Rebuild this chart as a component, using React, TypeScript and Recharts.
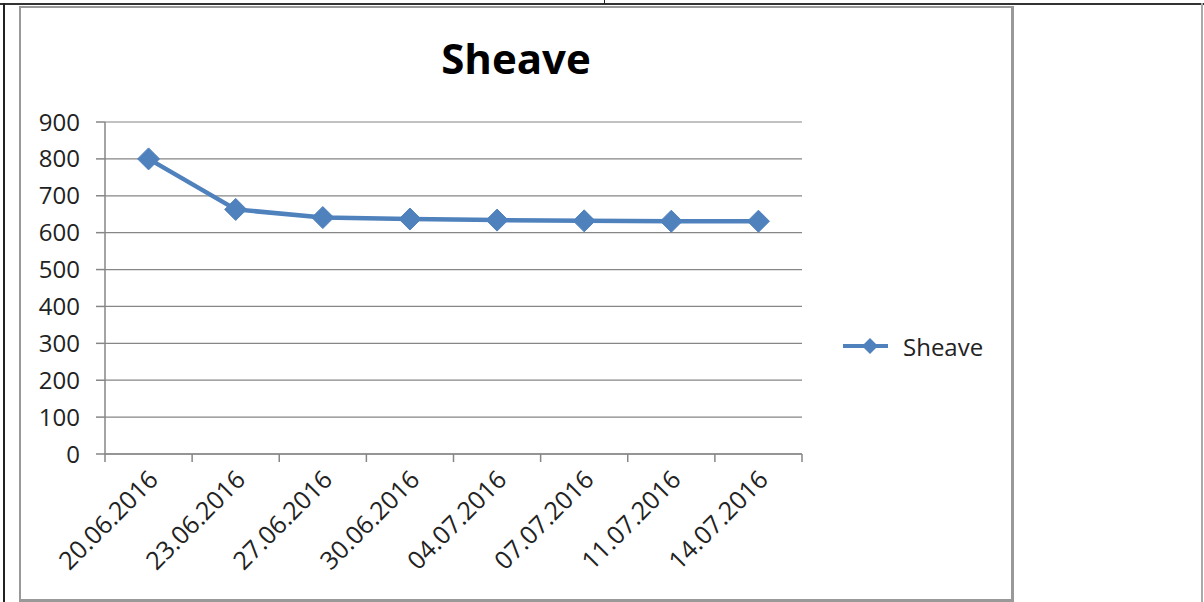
import React from "react";
import { LineChart, Line, XAxis, YAxis, CartesianGrid } from "recharts";

const dates = [
  "20.06.2016",
  "23.06.2016",
  "27.06.2016",
  "30.06.2016",
  "04.07.2016",
  "07.07.2016",
  "11.07.2016",
  "14.07.2016",
];
const sheave = [800, 663, 641, 637, 634, 632, 631, 631];
const yTicks = [0, 100, 200, 300, 400, 500, 600, 700, 800, 900];

const data = dates.map((d, i) => ({ date: d, Sheave: sheave[i] }));

const FONT = "'Open Sans', 'Noto Sans', sans-serif";
const BLUE = "#4f81bd";
const AXIS = "#868686";

const PLOT_LEFT = 105;
const PLOT_RIGHT = 802;
const HALF_BAND = (PLOT_RIGHT - PLOT_LEFT) / dates.length / 2;

const Diamond = (props: any) => {
  const { cx, cy } = props;
  if (cx == null || cy == null) return null;
  const r = 11;
  return (
    <polygon
      points={`${cx},${cy - r} ${cx + r},${cy} ${cx},${cy + r} ${cx - r},${cy}`}
      fill={BLUE}
      stroke={BLUE}
      strokeWidth={1}
    />
  );
};

const DateTick = (props: any) => {
  const { x, y, payload, index } = props;
  return (
    <g>
      {index === 0 && (
        <line x1={x - HALF_BAND} x2={x - HALF_BAND} y1={y - 8} y2={y} stroke={AXIS} strokeWidth={1.5} />
      )}
      <line x1={x + HALF_BAND} x2={x + HALF_BAND} y1={y - 8} y2={y} stroke={AXIS} strokeWidth={1.5} />
      <text
        x={0}
        y={0}
        transform={`translate(${x + 4},${y + 12}) rotate(-45)`}
        textAnchor="end"
        dominantBaseline="central"
        fontFamily={FONT}
        fontSize={25}
        fill="#222"
      >
        {payload.value}
      </text>
    </g>
  );
};

export default function App() {
  return (
    <div
      style={{
        position: "fixed",
        left: 0,
        top: 0,
        width: 1204,
        height: 602,
        background: "#fff",
        overflow: "hidden",
      }}
    >
      {/* table lines */}
      <div style={{ position: "absolute", left: 0, top: 3, width: 1204, height: 2, background: "#333" }} />
      <div style={{ position: "absolute", left: 3, top: 3, width: 1.5, height: 599, background: "#222" }} />
      <div style={{ position: "absolute", left: 604, top: 0, width: 1, height: 4, background: "#222" }} />
      <div style={{ position: "absolute", left: 1201, top: 3, width: 1.5, height: 599, background: "#aaa" }} />
      {/* chart frame */}
      <div
        style={{
          position: "absolute",
          left: 19,
          top: 6,
          width: 990,
          height: 591,
          border: "3px solid #999",
          borderTopWidth: 2,
          borderLeftWidth: 2,
        }}
      />
      <div
        style={{
          position: "absolute",
          left: 19,
          top: 28,
          width: 994,
          textAlign: "center",
          fontFamily: FONT,
          fontWeight: 700,
          fontSize: 42,
          lineHeight: "60px",
          color: "#000",
        }}
      >
        Sheave
      </div>
      <div style={{ position: "absolute", left: 0, top: 0 }}>
        <LineChart
          width={1204}
          height={602}
          data={data}
          margin={{ top: 122, right: 402, left: 45, bottom: 48 }}
        >
          <CartesianGrid vertical={false} stroke={AXIS} strokeWidth={1.2} />
          <XAxis
            dataKey="date"
            axisLine={{ stroke: AXIS, strokeWidth: 1.5 }}
            tickLine={false}
            tick={<DateTick />}
            interval={0}
            height={100}
            padding={{ left: HALF_BAND, right: HALF_BAND }}
          />
          <YAxis
            domain={[0, 900]}
            ticks={yTicks}
            width={60}
            axisLine={{ stroke: AXIS, strokeWidth: 1.5 }}
            tickLine={{ stroke: AXIS, strokeWidth: 1.5 }}
            tickSize={9}
            tickMargin={16}
            tick={{ fontFamily: FONT, fontSize: 24, fill: "#222" }}
          />
          <Line
            dataKey="Sheave"
            stroke={BLUE}
            strokeWidth={4.5}
            dot={<Diamond />}
            activeDot={false}
            isAnimationActive={false}
          />
        </LineChart>
      </div>
      {/* legend */}
      <svg style={{ position: "absolute", left: 840, top: 330 }} width={170} height={34}>
        <line x1={3} x2={48} y1={16} y2={16} stroke={BLUE} strokeWidth={4} />
        <polygon points="30,8 38,16 30,24 22,16" fill={BLUE} />
        <text x={63} y={16} dominantBaseline="central" fontFamily={FONT} fontSize={24} fill="#222">
          Sheave
        </text>
      </svg>
    </div>
  );
}
